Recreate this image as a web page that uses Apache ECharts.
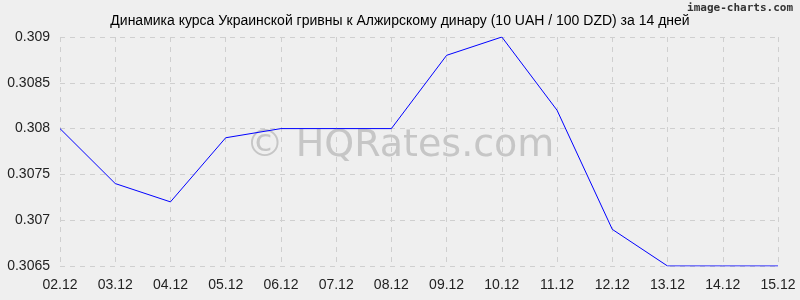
<!DOCTYPE html>
<html><head><meta charset="utf-8">
<script src="https://cdn.jsdelivr.net/npm/echarts@6/dist/echarts.min.js"></script>
<style>html,body{margin:0;padding:0;background:#efefef}#c{width:800px;height:300px}</style>
</head><body><div id="c"></div>
<script>
const categories = ['02.12','03.12','04.12','05.12','06.12','07.12','08.12','09.12','10.12','11.12','12.12','13.12','14.12','15.12'];
const values = [0.3080,0.3074,0.3072,0.3079,0.3080,0.3080,0.3080,0.3088,0.3090,0.3082,0.3069,0.3065,0.3065,0.3065];
const titleText = 'Динамика курса Украинской гривны к Алжирскому динару (10 UAH / 100 DZD) за 14 дней';
const chart = echarts.init(document.getElementById('c'), null, {renderer:'canvas'});
chart.setOption({
  backgroundColor:'#efefef',
  animation:false,
  title:{text:titleText,left:'center',top:9,textStyle:{fontFamily:'Liberation Sans, Arial',fontSize:14,fontWeight:'normal',color:'#000'}},
  graphic:[
    {type:'text',left:'center',top:127,z:1,style:{text:'© HQRates.com',font:'38px "DejaVu Sans", sans-serif',fill:'#c6c6c6'}},
    {type:'text',right:7,top:3,style:{text:'image-charts.com',font:'bold 11px "DejaVu Sans Mono", monospace',fill:'#333'}}
  ],
  grid:{left:60,right:22,top:37,bottom:34},
  xAxis:{type:'category',data:categories,boundaryGap:false,
    axisLine:{show:false},axisTick:{show:false},
    axisLabel:{fontFamily:'Liberation Sans, Arial',fontSize:14,color:'#222',margin:12},
    splitLine:{show:true,lineStyle:{color:'#cfcfcf',type:[5,5],width:1}}},
  yAxis:{type:'value',min:0.3065,max:0.309,interval:0.0005,
    axisLine:{show:false},axisTick:{show:false},
    axisLabel:{fontFamily:'Liberation Sans, Arial',fontSize:14,color:'#222',margin:10,formatter:v=>String(+v.toFixed(4))},
    splitLine:{show:true,lineStyle:{color:'#cfcfcf',type:[5,5],width:1}}},
  series:[{type:'line',data:values,symbol:'none',lineStyle:{color:'#0000ff',width:1},z:10}]
});
</script></body></html>
